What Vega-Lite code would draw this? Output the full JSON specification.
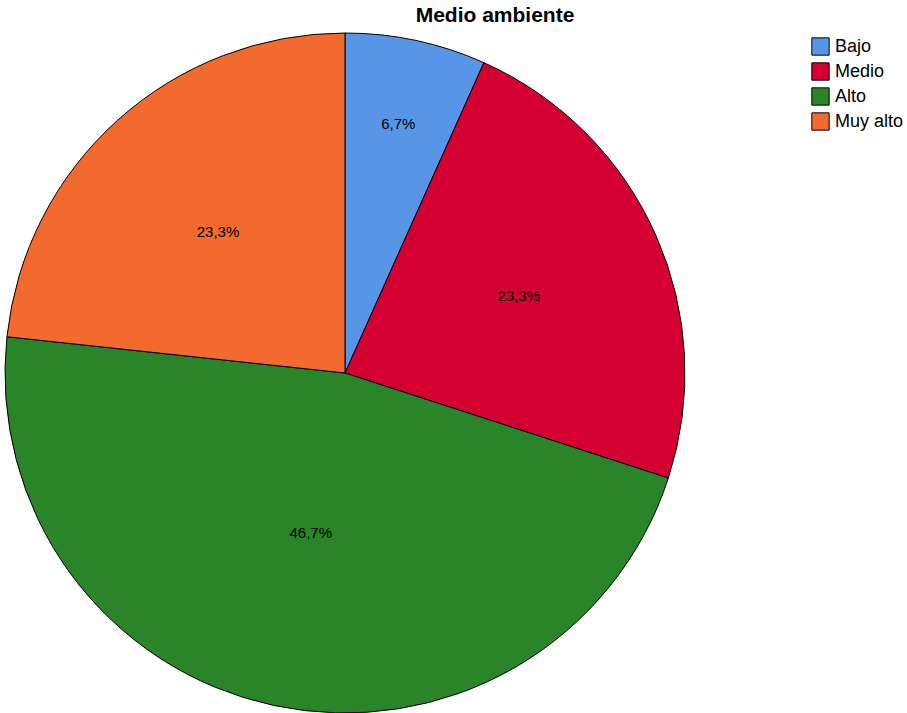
{
  "$schema": "https://vega.github.io/schema/vega-lite/v6.json",
  "width": 680,
  "height": 680,
  "autosize": "none",
  "padding": {"left": 5, "top": 33, "right": 222, "bottom": 0},
  "background": "white",
  "config": {
    "view": {"stroke": null},
    "font": "Liberation Sans",
    "locale": {"number": {"decimal": ",", "thousands": ".", "grouping": [3], "currency": ["", " €"]}}
  },
  "title": {
    "text": "Medio ambiente",
    "fontSize": 21,
    "fontWeight": "bold",
    "font": "Liberation Sans",
    "anchor": "middle",
    "dx": 150,
    "offset": 5,
    "color": "black"
  },
  "data": {
    "values": [
      {"nivel": "Bajo", "pct": 0.067, "orden": 1},
      {"nivel": "Medio", "pct": 0.233, "orden": 2},
      {"nivel": "Alto", "pct": 0.467, "orden": 3},
      {"nivel": "Muy alto", "pct": 0.233, "orden": 4}
    ]
  },
  "encoding": {
    "theta": {"field": "pct", "type": "quantitative", "stack": true},
    "order": {"field": "orden", "type": "quantitative"},
    "color": {
      "field": "nivel",
      "type": "nominal",
      "sort": ["Bajo", "Medio", "Alto", "Muy alto"],
      "scale": {"domain": ["Bajo", "Medio", "Alto", "Muy alto"], "range": ["#5796E6", "#D50032", "#2A8428", "#F26A2E"]},
      "legend": {
        "title": null,
        "orient": "none",
        "legendX": 806,
        "legendY": 4,
        "symbolType": "square",
        "symbolSize": 300,
        "symbolStrokeColor": "black",
        "symbolStrokeWidth": 1,
        "symbolOpacity": 1,
        "labelFontSize": 18,
        "labelFont": "Liberation Sans",
        "labelColor": "black",
        "rowPadding": 2,
        "labelOffset": 5
      }
    }
  },
  "layer": [
    {
      "mark": {"type": "arc", "outerRadius": 340, "stroke": "black", "strokeWidth": 1}
    },
    {
      "mark": {"type": "text", "fontSize": 15, "color": "black", "font": "Liberation Sans"},
      "encoding": {
        "radius": {"field": "pct", "type": "quantitative", "scale": {"type": "linear", "zero": false, "domain": [0.067, 0.233, 0.467], "range": [255, 190, 164]}},
        "text": {"field": "pct", "type": "quantitative", "format": ".1%"},
        "color": {"value": "black"}
      }
    }
  ]
}
